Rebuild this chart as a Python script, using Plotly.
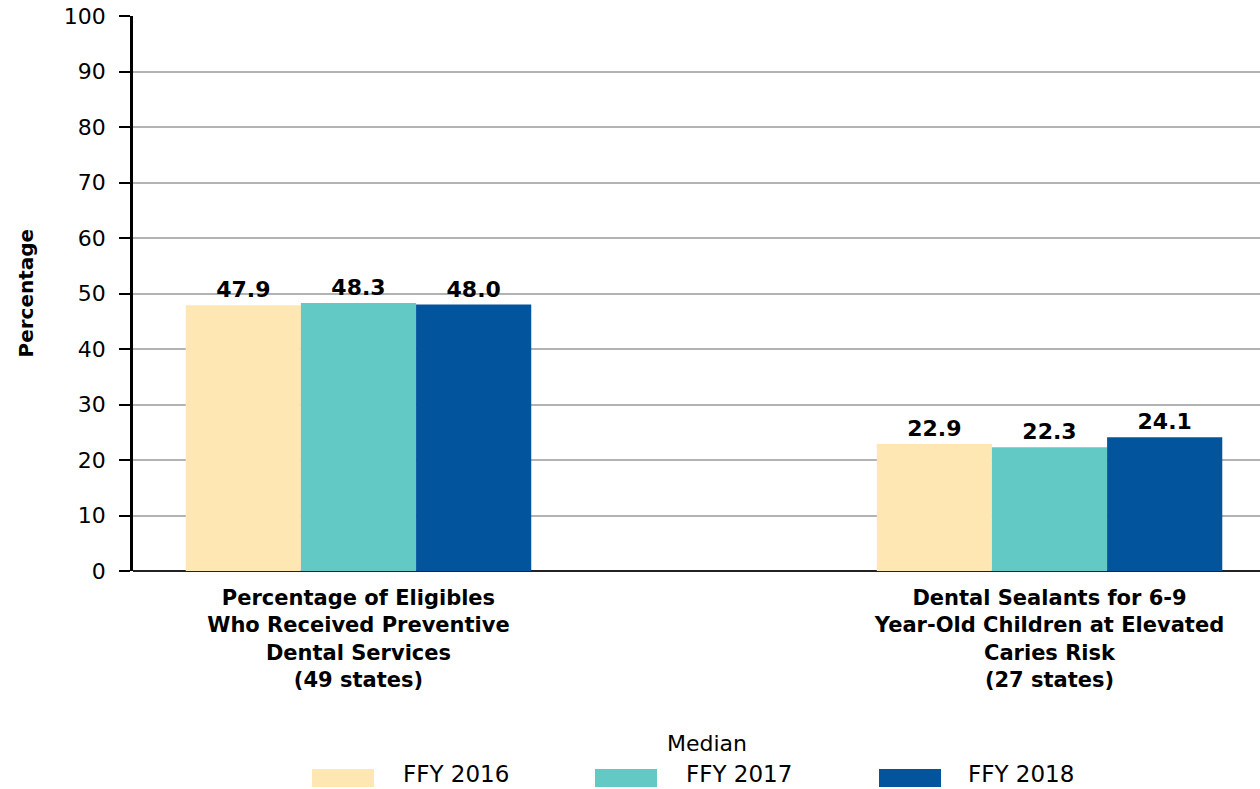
import plotly.graph_objects as go

# Measures (category labels shown under each bar group)
categories = [
    "Percentage of Eligibles<br>Who Received Preventive<br>Dental Services<br>(49 states)",
    "Dental Sealants for 6-9<br>Year-Old Children at Elevated<br>Caries Risk<br>(27 states)",
]
series_names = ["FFY 2016", "FFY 2017", "FFY 2018"]
ffy2016 = [47.9, 22.9]
ffy2017 = [48.3, 22.3]
ffy2018 = [48.0, 24.1]
y_ticks = [0, 10, 20, 30, 40, 50, 60, 70, 80, 90, 100]
legend_title = "Median"

colors = ["#FEE7B3", "#62C9C4", "#02559C"]
FONT = "DejaVu Sans, Liberation Sans, Arial, sans-serif"

W, H = 1260, 789
M_L, M_R, M_T, M_B = 133, 0, 16, 218
PW = W - M_L - M_R
PH = H - M_T - M_B


def px_x(px):
    return (px - M_L) / PW


def px_y(py):
    return (H - M_B - py) / PH


fig = go.Figure()
x_idx = [0, 1]
for name, vals, col in zip(series_names, [ffy2016, ffy2017, ffy2018], colors):
    fig.add_trace(go.Bar(
        x=x_idx, y=vals, name=name,
        marker=dict(color=col, line=dict(width=0)),
        text=[f"{v:.1f}" for v in vals],
        textposition="outside",
        textfont=dict(family=FONT, size=22, color="#000000", weight="bold"),
        cliponaxis=False,
        showlegend=False,
    ))

fig.update_layout(
    width=W, height=H,
    margin=dict(l=M_L, r=M_R, t=M_T, b=M_B, autoexpand=False),
    paper_bgcolor="white", plot_bgcolor="white",
    barmode="group", bargap=0.5, bargroupgap=0,
    font=dict(family=FONT, color="#000000"),
    showlegend=False,
)

fig.update_xaxes(
    type="linear",
    range=[-0.3263, 1.3046],
    tickvals=x_idx, ticktext=[f"<b>{c}</b>" for c in categories],
    tickfont=dict(family=FONT, size=21, color="#000000"),
    ticks="", ticklabelstandoff=12,
    showgrid=False, zeroline=False, showline=False,
    automargin=False,
)

fig.update_yaxes(
    range=[0, 100], tickvals=y_ticks,
    tickfont=dict(family=FONT, size=22, color="#000000"),
    ticks="outside", ticklen=11, tickwidth=2, tickcolor="#000000",
    ticklabelstandoff=9,
    showgrid=True, gridcolor="#B3B3B3", gridwidth=2,
    zeroline=True, zerolinecolor="#222222", zerolinewidth=2,
    showline=True, linecolor="#000000", linewidth=2.5,
    automargin=False,
)

# Y axis title
fig.add_annotation(
    x=px_x(25), y=0.5, xref="paper", yref="paper",
    text="<b>Percentage</b>", textangle=-90, showarrow=False,
    font=dict(family=FONT, size=20, color="#000000"),
    xanchor="center", yanchor="middle",
)

# Legend drawn below the plot with wide swatches
fig.add_annotation(
    x=px_x(707), y=px_y(743), xref="paper", yref="paper",
    text=legend_title, showarrow=False,
    font=dict(family=FONT, size=22, color="#000000"),
    xanchor="center", yanchor="middle",
)
swatch_left = [312, 595, 879]
text_left = [401, 684, 966]
for name, col, sx, tx in zip(series_names, colors, swatch_left, text_left):
    fig.add_shape(
        type="rect", xref="paper", yref="paper",
        x0=px_x(sx), x1=px_x(sx + 62), y0=px_y(787), y1=px_y(769),
        fillcolor=col, line=dict(width=0),
    )
    fig.add_annotation(
        x=px_x(tx), y=px_y(774), xref="paper", yref="paper",
        text=name, showarrow=False,
        font=dict(family=FONT, size=23, color="#000000"),
        xanchor="left", yanchor="middle",
    )

fig.write_html("out.html")
